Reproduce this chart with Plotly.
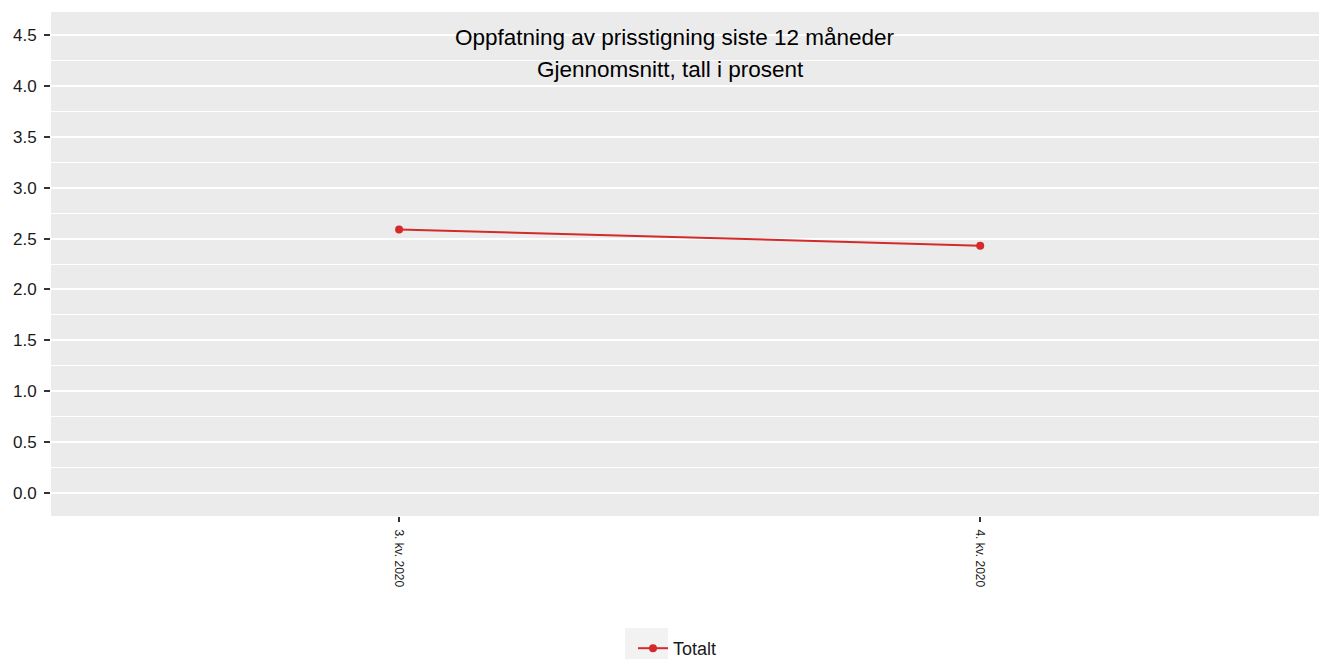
import plotly.graph_objects as go

categories = ["3. kv. 2020", "4. kv. 2020"]
totalt = [2.59, 2.43]
series_name = "Totalt"
title_line1 = "Oppfatning av prisstigning siste 12 måneder"
title_line2 = "Gjennomsnitt, tall i prosent"
y_ticks = [0.0, 0.5, 1.0, 1.5, 2.0, 2.5, 3.0, 3.5, 4.0, 4.5]

W, H = 1319, 659
ml, mr, mt, mb = 51, 0, 12, 143
pw, ph = W - ml - mr, H - mt - mb
red = "#d42a2a"
font = "Liberation Sans, Arial, sans-serif"


def px_x(p):
    return (p - ml) / pw


def px_y(p):
    return 1 - (p - mt) / ph


fig = go.Figure()
fig.add_trace(go.Scatter(
    x=categories, y=totalt, name=series_name, mode="lines+markers",
    line=dict(color=red, width=2), marker=dict(color=red, size=8),
    showlegend=True,
))

fig.update_layout(
    width=W, height=H, autosize=False,
    margin=dict(l=ml, r=mr, t=mt, b=mb, pad=0),
    paper_bgcolor="white", plot_bgcolor="#ebebeb",
    font=dict(family=font, color="#1a1a1a"),
    showlegend=True,
    legend=dict(orientation="h", x=633 / W, xanchor="left", xref="container",
                y=(H - 630) / H, yanchor="top", yref="container",
                font=dict(size=18, color="#1a1a1a"), bgcolor="rgba(0,0,0,0)",
                borderwidth=0),
    xaxis=dict(
        type="category", range=[-0.599, 1.583],
        tickangle=90, tickfont=dict(size=12, color="#1a1a1a"),
        ticks="outside", ticklen=5, tickcolor="#333333", tickwidth=2,
        ticklabelstandoff=5,
        showgrid=False, zeroline=False, showline=False, automargin=False,
    ),
    yaxis=dict(
        range=[-0.225, 4.725], tickvals=y_ticks,
        ticktext=[f"{v:.1f}" for v in y_ticks],
        tickfont=dict(size=17, color="#1a1a1a"),
        ticks="outside", ticklen=6, tickcolor="#333333", tickwidth=2,
        ticklabelstandoff=4, automargin=False,
        showgrid=True, gridcolor="white", gridwidth=2,
        minor=dict(dtick=0.25, tick0=0.25, showgrid=True, gridcolor="white", gridwidth=1),
        zeroline=False, showline=False,
    ),
    shapes=[
        dict(type="rect", xref="paper", yref="paper", layer="below",
             x0=px_x(625), x1=px_x(668), y0=px_y(628), y1=px_y(659),
             fillcolor="#f2f2f2", line=dict(width=0)),
    ],
    annotations=[
        dict(text=title_line1, xref="paper", yref="paper", x=px_x(675),
             y=px_y(37), xanchor="center", yanchor="middle",
             showarrow=False, font=dict(size=22.5, color="black", family=font)),
        dict(text=title_line2, xref="paper", yref="paper", x=px_x(670.5),
             y=px_y(69), xanchor="center", yanchor="middle",
             showarrow=False, font=dict(size=22.5, color="black", family=font)),
    ],
)

post = ("document.body.style.margin='0';document.body.style.padding='0';"
        "document.body.style.overflow='hidden';"
        "var gd=document.getElementById('{plot_id}');Plotly.relayout(gd,{width:1319,height:659});")
fig.write_html("out.html", post_script=post,
               config={"responsive": False, "displayModeBar": False})
